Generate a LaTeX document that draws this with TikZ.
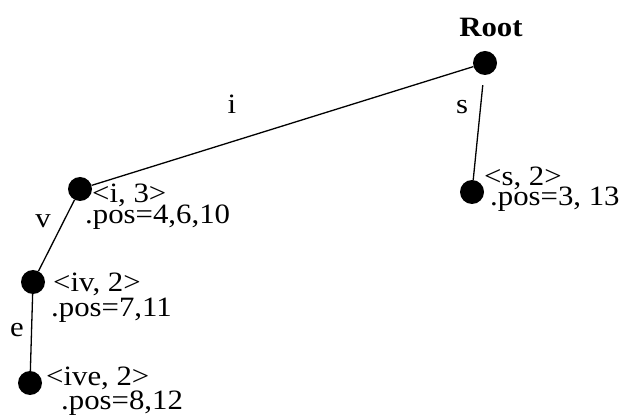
\documentclass[tikz,border=0pt]{standalone}
\usepackage{fontspec}
\setmainfont{Liberation Serif}[FakeStretch=1.1]
\begin{document}
\begin{tikzpicture}[x=1pt,y=-1pt,
  dot/.style={circle,fill=black,inner sep=0pt,minimum size=24pt},
  lbl/.style={font=\fontsize{28}{28}\selectfont,inner sep=0pt,anchor=base west},
  elbl/.style={font=\fontsize{28}{28}\selectfont,inner sep=0pt,anchor=base},
  edge/.style={line width=1.3pt}]
\useasboundingbox (0,0) rectangle (626,419);
\node[dot] (root) at (485,63) {};
\node[dot] (s) at (472,192) {};
\node[dot] (i) at (80,189) {};
\node[dot] (iv) at (33,282) {};
\node[dot] (ive) at (30,383) {};
\node[font=\bfseries\fontsize{28}{28}\selectfont,inner sep=0pt,anchor=base] (rootlbl) at (491,37) {Root};
\draw[edge] (i) -- (root);
\draw[edge,shorten <=10pt] (root) -- (s);
\draw[edge] (i) -- (iv);
\draw[edge] (iv) -- (ive);
\node[elbl] (li) at (232,114) {i};
\node[elbl] (ls) at (462,114) {s};
\node[elbl] (lv) at (43,228) {v};
\node[elbl] (le) at (17,337) {e};
\node[lbl] (t1) at (92,203) {<i, 3>};
\node[lbl] (t2) at (85,224) {.pos=4,6,10};
\node[lbl] (t3) at (53,292) {<iv, 2>};
\node[lbl] (t4) at (51,317) {.pos=7,11};
\node[lbl] (t5) at (46,385) {<ive, 2>};
\node[lbl] (t6) at (61,409) {.pos=8,12};
\node[lbl] (t7) at (484,186) {<s, 2>};
\node[lbl] (t8) at (490,206) {.pos=3, 13};
\end{tikzpicture}
\end{document}
